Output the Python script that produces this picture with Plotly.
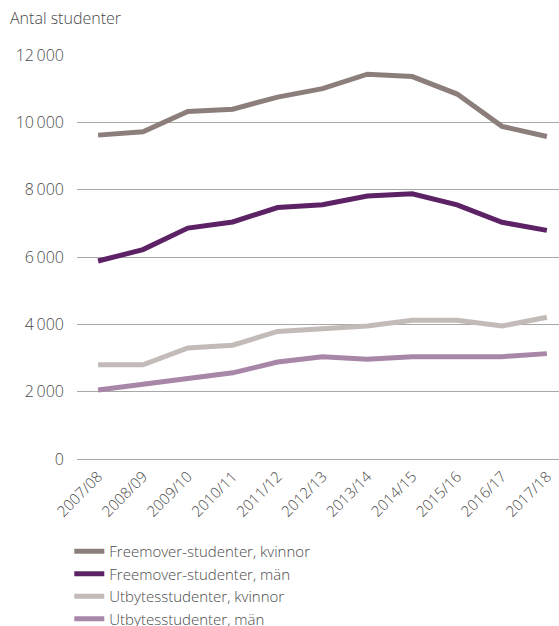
import plotly.graph_objects as go

years = ["2007/08", "2008/09", "2009/10", "2010/11", "2011/12", "2012/13",
         "2013/14", "2014/15", "2015/16", "2016/17", "2017/18"]

freemover_kvinnor = [9620, 9720, 10320, 10390, 10750, 11000, 11430, 11360, 10840, 9880, 9580]
freemover_man = [5880, 6220, 6860, 7040, 7470, 7550, 7810, 7880, 7550, 7030, 6790]
utbytes_kvinnor = [2800, 2800, 3300, 3380, 3790, 3870, 3950, 4120, 4120, 3950, 4210]
utbytes_man = [2050, 2220, 2390, 2560, 2880, 3040, 2960, 3040, 3040, 3040, 3130]

series_names = ["Freemover-studenter, kvinnor", "Freemover-studenter, män",
                "Utbytesstudenter, kvinnor", "Utbytesstudenter, män"]
series_values = [freemover_kvinnor, freemover_man, utbytes_kvinnor, utbytes_man]
series_colors = ["#8c7f7b", "#5c2265", "#c3bbb8", "#a886a7"]

y_tickvals = [0, 2000, 4000, 6000, 8000, 10000, 12000]
y_ticktext = ["0", "2\u2009000", "4\u2009000", "6\u2009000", "8\u2009000", "10\u2009000", "12\u2009000"]

font_family = "Open Sans, Lato, sans-serif"
text_color = "#4a4a4a"

fig = go.Figure()
for name, vals, col in zip(series_names, series_values, series_colors):
    fig.add_trace(go.Scatter(
        x=list(range(len(years))), y=vals, name=name, mode="lines",
        line=dict(color=col, width=5),
    ))

fig.update_layout(
    width=559, height=626,
    margin=dict(l=77, r=0, t=55, b=167, autoexpand=False),
    paper_bgcolor="white", plot_bgcolor="white",
    font=dict(family=font_family, size=15, color=text_color, weight=300),
    showlegend=True,
    legend=dict(
        x=-0.016, xanchor="left", y=-0.188, yanchor="top",
        bgcolor="rgba(0,0,0,0)", borderwidth=0,
        font=dict(size=15, color=text_color, family=font_family, weight=300),
        itemwidth=30, tracegroupgap=0,
    ),
    xaxis=dict(
        tickmode="array", tickvals=list(range(len(years))), ticktext=years,
        range=[-0.47, 10.27], tickangle=-45, showgrid=False, zeroline=False,
        showline=False, ticks="", tickfont=dict(size=15, color=text_color),
        automargin=False, ticklabelstandoff=5,
    ),
    yaxis=dict(
        tickmode="array", tickvals=y_tickvals, ticktext=y_ticktext,
        range=[0, 12000], showgrid=True, gridcolor="#a8a8a8", gridwidth=1,
        zeroline=True, zerolinecolor="#a8a8a8", zerolinewidth=1,
        showline=False, ticks="", ticklabelstandoff=12,
        tickfont=dict(size=16, color=text_color), automargin=False,
    ),
    annotations=[dict(
        text="Antal studenter", xref="paper", yref="paper",
        x=-0.143, xanchor="left", y=1 + (55 - 18) / 404, yanchor="middle",
        showarrow=False, font=dict(size=16, color=text_color, family=font_family, weight=300),
    )],
)

fig.write_html("out.html", config={"displayModeBar": False},
               post_script="document.body.style.margin='0';document.body.style.overflow='hidden';")
